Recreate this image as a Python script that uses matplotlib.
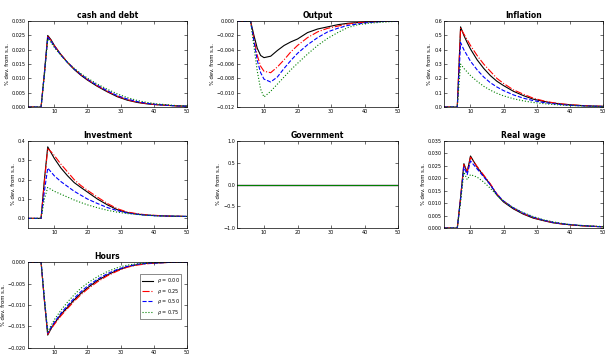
import matplotlib
matplotlib.use("Agg")
import matplotlib.pyplot as plt

# horizon (quarters) at which each response is sampled
t = [2, 4, 5, 6, 7, 8, 9, 10, 12, 14, 16, 18, 20, 23, 26, 29, 32, 35, 38, 41, 44, 47, 50]

labels = [r"$\rho$ = 0.00", r"$\rho$ = 0.25", r"$\rho$ = 0.50", r"$\rho$ = 0.75"]
titles = ["cash and debt", "Output", "Inflation", "Investment", "Government", "Real wage", "Hours"]

# responses, one list per calibration (same order as labels)
cash = [
    [0, 0, 0, 0, 0.012, 0.025, 0.0235, 0.0215, 0.0183, 0.0155, 0.0131, 0.0111, 0.0094, 0.0072, 0.0053, 0.0036, 0.0024, 0.0016, 0.0011, 0.0008, 0.0006, 0.0004, 0.0003],
    [0, 0, 0, 0, 0.0118, 0.0246, 0.0233, 0.0214, 0.0183, 0.0156, 0.0133, 0.0113, 0.0096, 0.0074, 0.0055, 0.0038, 0.0026, 0.0017, 0.0012, 0.0008, 0.0006, 0.0004, 0.0003],
    [0, 0, 0, 0, 0.0115, 0.0243, 0.023, 0.0211, 0.0181, 0.0155, 0.0133, 0.0114, 0.0097, 0.0076, 0.0057, 0.004, 0.0028, 0.0019, 0.0013, 0.0009, 0.0006, 0.0004, 0.0003],
    [0, 0, 0, 0, 0.011, 0.0238, 0.0226, 0.0208, 0.018, 0.0156, 0.0135, 0.0117, 0.0101, 0.008, 0.0062, 0.0046, 0.0033, 0.0023, 0.0016, 0.0011, 0.0008, 0.0005, 0.0004],
]
output = [
    [0, 0, 0, 0, -0.002, -0.0038, -0.0048, -0.0051, -0.0049, -0.0041, -0.0034, -0.0029, -0.0025, -0.0016, -0.0011, -0.0008, -0.0005, -0.0003, -0.0002, -0.0001, -0.00005, 0, 0],
    [0, 0, 0, 0, -0.0025, -0.0048, -0.0063, -0.007, -0.0072, -0.0064, -0.0054, -0.0043, -0.0034, -0.0023, -0.0015, -0.001, -0.0007, -0.0004, -0.0002, -0.0001, -0.00005, 0, 0],
    [0, 0, 0, 0, -0.0028, -0.0055, -0.0072, -0.0081, -0.0085, -0.0078, -0.0066, -0.0055, -0.0045, -0.0033, -0.0023, -0.0015, -0.001, -0.0006, -0.0004, -0.0002, -0.0001, 0, 0],
    [0, 0, 0, 0, -0.0035, -0.007, -0.0095, -0.0106, -0.0098, -0.0088, -0.0078, -0.0068, -0.0059, -0.0046, -0.0034, -0.0024, -0.0016, -0.0009, -0.0005, -0.0003, -0.0002, -0.0001, 0],
]
inflation = [
    [0, 0, 0, 0, 0.56, 0.5, 0.45, 0.405, 0.33, 0.27, 0.22, 0.18, 0.15, 0.11, 0.08, 0.055, 0.04, 0.028, 0.02, 0.014, 0.01, 0.007, 0.005],
    [0, 0, 0, 0, 0.55, 0.51, 0.47, 0.43, 0.36, 0.3, 0.25, 0.2, 0.165, 0.12, 0.09, 0.062, 0.044, 0.03, 0.021, 0.015, 0.01, 0.007, 0.005],
    [0, 0, 0, 0, 0.45, 0.4, 0.36, 0.32, 0.26, 0.21, 0.17, 0.14, 0.115, 0.085, 0.062, 0.045, 0.032, 0.023, 0.016, 0.011, 0.008, 0.006, 0.004],
    [0, 0, 0, 0, 0.3, 0.27, 0.245, 0.22, 0.18, 0.145, 0.118, 0.096, 0.078, 0.058, 0.043, 0.032, 0.024, 0.018, 0.013, 0.01, 0.007, 0.005, 0.004],
]
investment = [
    [0, 0, 0, 0, 0.2, 0.37, 0.34, 0.31, 0.26, 0.22, 0.185, 0.16, 0.136, 0.1, 0.07, 0.045, 0.03, 0.022, 0.017, 0.014, 0.012, 0.011, 0.01],
    [0, 0, 0, 0, 0.19, 0.36, 0.345, 0.325, 0.28, 0.24, 0.2, 0.17, 0.145, 0.11, 0.077, 0.05, 0.033, 0.024, 0.018, 0.015, 0.012, 0.011, 0.01],
    [0, 0, 0, 0, 0.14, 0.26, 0.24, 0.22, 0.19, 0.165, 0.14, 0.12, 0.1, 0.077, 0.056, 0.04, 0.028, 0.021, 0.016, 0.013, 0.012, 0.011, 0.01],
    [0, 0, 0, 0, 0.1, 0.16, 0.15, 0.14, 0.125, 0.11, 0.095, 0.082, 0.07, 0.055, 0.042, 0.032, 0.025, 0.02, 0.016, 0.013, 0.012, 0.011, 0.01],
]
government = [[0.0] * len(t) for _ in range(4)]
wage = [
    [0, 0, 0, 0, 0.0123, 0.0259, 0.0224, 0.029, 0.0245, 0.021, 0.0175, 0.0133, 0.0105, 0.0077, 0.0056, 0.004, 0.003, 0.0021, 0.0016, 0.0012, 0.0009, 0.0007, 0.0005],
    [0, 0, 0, 0, 0.012, 0.0255, 0.0228, 0.0285, 0.0248, 0.0213, 0.0178, 0.0137, 0.0108, 0.008, 0.0058, 0.0042, 0.0031, 0.0022, 0.0016, 0.0012, 0.0009, 0.0007, 0.0005],
    [0, 0, 0, 0, 0.0115, 0.0245, 0.0215, 0.027, 0.0238, 0.0206, 0.0174, 0.0136, 0.0109, 0.0081, 0.006, 0.0044, 0.0032, 0.0023, 0.0017, 0.0013, 0.001, 0.0007, 0.0005],
    [0, 0, 0, 0, 0.0105, 0.0225, 0.0195, 0.0215, 0.0205, 0.0185, 0.016, 0.0132, 0.0108, 0.0082, 0.0062, 0.0046, 0.0034, 0.0025, 0.0018, 0.0013, 0.001, 0.0008, 0.0006],
]
hours = [
    [0, 0, 0, 0, -0.009, -0.017, -0.0155, -0.0143, -0.0122, -0.0105, -0.0088, -0.0073, -0.006, -0.0043, -0.003, -0.0019, -0.0011, -0.0006, -0.0003, -0.0002, -0.0001, 0, 0],
    [0, 0, 0, 0, -0.0088, -0.0168, -0.0156, -0.0145, -0.0125, -0.0108, -0.0091, -0.0076, -0.0063, -0.0046, -0.0032, -0.0021, -0.0012, -0.0007, -0.0004, -0.0002, -0.0001, 0, 0],
    [0, 0, 0, 0, -0.0086, -0.0165, -0.0152, -0.014, -0.0119, -0.0101, -0.0084, -0.0069, -0.0056, -0.004, -0.0027, -0.0017, -0.001, -0.0005, -0.0003, -0.0002, -0.0001, 0, 0],
    [0, 0, 0, 0, -0.0084, -0.0162, -0.0148, -0.0134, -0.0112, -0.0093, -0.0076, -0.0061, -0.0049, -0.0034, -0.0022, -0.0013, -0.0007, -0.0004, -0.0002, -0.0001, 0, 0, 0],
]

panels = [cash, output, inflation, investment, government, wage, hours]
ylims = [(0, 0.03), (-0.012, 0), (0, 0.6), (-0.05, 0.4), (-1, 1), (0, 0.035), (-0.02, 0)]
yticks = [
    [0, 0.005, 0.01, 0.015, 0.02, 0.025, 0.03],
    [-0.012, -0.01, -0.008, -0.006, -0.004, -0.002, 0],
    [0, 0.1, 0.2, 0.3, 0.4, 0.5, 0.6],
    [0, 0.1, 0.2, 0.3, 0.4],
    [-1, -0.5, 0, 0.5, 1],
    [0, 0.005, 0.01, 0.015, 0.02, 0.025, 0.03, 0.035],
    [-0.02, -0.015, -0.01, -0.005, 0],
]
styles = [("k", "-"), ("r", "-."), ("b", "--"), ("g", ":")]

# axes boxes in figure fractions (left, bottom, width, height)
cols = [(0.046, 0.263), (0.392, 0.266), (0.734, 0.262)]
rows = [(0.701, 0.240), (0.363, 0.243), (0.028, 0.240)]

plt.rcParams["font.family"] = "DejaVu Sans"
fig = plt.figure(figsize=(6.05, 3.58), dpi=100)

for i, data in enumerate(panels):
    r, c = divmod(i, 3)
    ax = fig.add_axes([cols[c][0], rows[r][0], cols[c][1], rows[r][1]])
    for series, (col, ls), lab in zip(data, styles, labels):
        # a flat response is drawn solid so it stays visible
        style = "-" if i == 4 else ls
        ax.plot(t, series, color=col, linestyle=style, linewidth=0.8, label=lab)
    ax.set_xlim(2, 50)
    ax.set_ylim(*ylims[i])
    ax.set_xticks([10, 20, 30, 40, 50])
    ax.set_yticks(yticks[i])
    ax.set_title(titles[i], fontsize=5.5, fontweight="bold", pad=2)
    ax.set_ylabel("% dev. from s.s.", fontsize=3.8, labelpad=1.5)
    ax.tick_params(direction="in", length=2, width=0.4, labelsize=3.5, pad=1.5,
                   top=True, right=True)
    for s in ax.spines.values():
        s.set_linewidth(0.5)
    if i == 6:
        leg = ax.legend(loc="center right", bbox_to_anchor=(0.98, 0.6), fontsize=3.5,
                        frameon=True, fancybox=False, edgecolor="k", handlelength=2.2,
                        borderpad=0.4, labelspacing=0.3)
        leg.get_frame().set_linewidth(0.4)

fig.savefig("out.png", dpi=100)
